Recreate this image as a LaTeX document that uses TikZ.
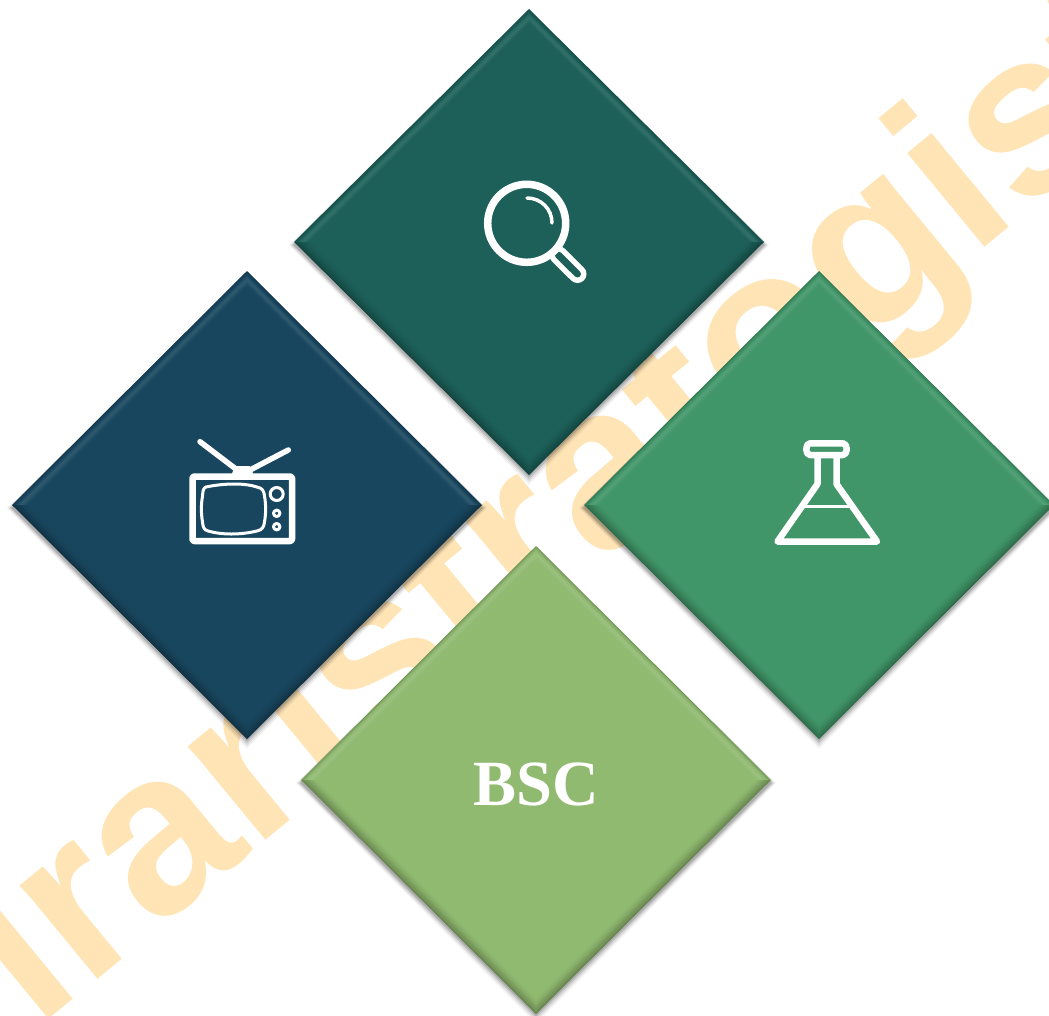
\documentclass[tikz,border=0pt]{standalone}
\usepackage{fontspec}
\setmainfont{Liberation Serif}
\newfontfamily\wmfont{Liberation Sans}
\usetikzlibrary{calc}
\definecolor{wm}{HTML}{FFE5B6}
\definecolor{gemA}{HTML}{1C6059}
\definecolor{gemB}{HTML}{18465F}
\definecolor{gemC}{HTML}{409668}
\definecolor{gemD}{HTML}{90BA70}
\tikzset{
  icon/.style={draw=white,line join=round,line cap=round},
  wmtext/.style={text=wm,font=\wmfont\bfseries\fontsize{230}{230}\selectfont,inner sep=0pt,anchor=base west,rotate=39.5},
  lab/.style={text=white,font=\bfseries\fontsize{64.5}{64.5}\selectfont,inner sep=0pt}
}
% #1 name, #2 cx, #3 cy, #4 half-height, #5 colour
\newcommand{\gem}[5]{%
  \coordinate (#1) at (#2,#3);
  \foreach \o/\q in {9/0.03,7/0.05,5/0.07,3/0.09,1/0.12}{
    \fill[black,opacity=\q] (#2,#3-#4+2) -- (#2+235+\o*0.6,#3+3) -- (#2,#3+#4+\o+1) -- (#2-235-\o*0.6,#3+3) -- cycle;
  }
  \foreach \t/\u/\l in {0/82!black,1.5/90!black,3/97!black,5/95!white,7/91!white,9/91!white,11/95!white,13/98!white,15/100}{
    \fill[#5!\u] (#2-235+\t,#3) -- (#2,#3-#4+\t) -- (#2+235-\t,#3) -- cycle;
  }
  \foreach \t/\l in {0/72,1.5/76,3/80,5/84,7/88,9/92,11/95,13/98,15/100}{
    \fill[#5!\l!black] (#2-235+\t,#3) -- (#2,#3+#4-\t) -- (#2+235-\t,#3) -- cycle;
  }
}
\begin{document}
\begin{tikzpicture}[x=1pt,y=-1pt]
\useasboundingbox (0,0) rectangle (1049,1015);
\fill[white] (0,0) rectangle (1049,1015);
% watermark
\node[wmtext] (wmark) at (36,1030) {lrarıstratogist};
% diamonds
\gem{top}{529}{242}{233}{gemA}
\gem{left}{247}{505}{234}{gemB}
\gem{right}{819}{505}{234}{gemC}
\gem{bot}{536}{780}{234}{gemD}
% magnifier
\draw[icon,line width=18] (558.3,255) -- (577.5,274);
\draw[draw=gemA,line width=7,line cap=round] (558.3,255) -- (577.5,274);
\draw[icon,line width=7.5,fill=gemA] (526.7,223.3) circle[radius=39];
\draw[icon,line width=3.5] (527,198) .. controls (541,198) and (552,209) .. (552,223);
% television
\draw[icon,line width=5.5] (200,441.7) -- (235,468.3);
\draw[icon,line width=5.5] (288.3,450) -- (250,470);
\fill[white] (235,466) -- (250,466) -- (254,476) -- (231,476) -- cycle;
\draw[icon,line width=6.5,rounded corners=2] (192.5,476.5) rectangle (292,541);
\draw[icon,line width=3] (206,487) .. controls (225,483) and (245,483) .. (257,487)
  .. controls (263,488) and (264,492) .. (264.5,496)
  .. controls (266,505) and (266,513) .. (264.5,522)
  .. controls (264,527) and (262,530) .. (257,531)
  .. controls (240,535) and (222,535) .. (208,531)
  .. controls (204,530) and (203,527) .. (202.5,522)
  .. controls (201,513) and (201,505) .. (202.5,496)
  .. controls (203,491) and (203,488) .. (206,487) -- cycle;
\draw[icon,line width=3] (276.7,494) circle[radius=6.5];
\draw[icon,line width=3] (276.7,513.3) circle[radius=3.2];
\draw[icon,line width=3] (276.7,526.7) circle[radius=3.2];
% flask
\draw[icon,line width=6.5] (817.5,457) -- (817.5,484) -- (777.5,541.5) -- (877,541.5) -- (836.5,484) -- (836.5,457);
\draw[icon,line width=6.5] (810,443.3) -- (843,443.3) .. controls (848,443.3) and (848,455) .. (843,455) -- (810,455) .. controls (805,455) and (805,443.3) .. (810,443.3) -- cycle;
\draw[draw=white,line width=2.5] (805,506.7) -- (849,506.7);
% label
\node[lab] (bsc) at (536.5,784) {BSC};
\end{tikzpicture}
\end{document}
